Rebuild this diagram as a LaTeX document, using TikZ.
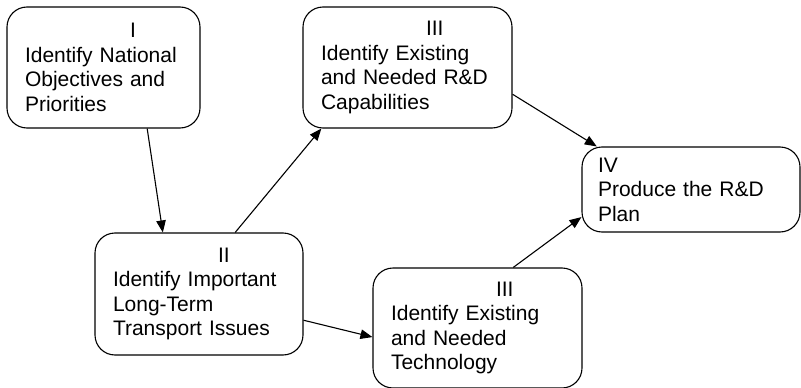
\documentclass[tikz,border=0pt]{standalone}
\usepackage{fontspec}
\setmainfont{Liberation Sans}
\usetikzlibrary{arrows.meta,calc}

\tikzset{
  stage/.style={draw, line width=1.1pt, rounded corners=20pt, align=left,
    inner xsep=17pt, inner ysep=0pt, anchor=center,
    font=\fontsize{21}{24.6}\selectfont},
  flow/.style={line width=1.1pt, -{Triangle[length=12pt,width=9.5pt]}}
}
\newcommand{\numpad}{\hspace*{105pt}}

\begin{document}
\begin{tikzpicture}[x=1pt,y=-1pt]
  \useasboundingbox (0,0) rectangle (801,388);

  % stage boxes
  \node[stage, minimum width=193pt, minimum height=121pt, text width=157pt]
    (s1) at (103.5,67.5) {\numpad I\\Identify National\\Objectives and\\Priorities};
  \node[stage, minimum width=209pt, minimum height=121pt, text width=173pt]
    (s3a) at (407.5,67.5) {\numpad III\\Identify Existing\\and Needed R\&D\\Capabilities};
  \node[stage, minimum width=218pt, minimum height=85pt, text width=186pt,
    inner xsep=15pt]
    (s4) at (691,189.5) {IV\\Produce the R\&D\\Plan};
  \node[stage, minimum width=208pt, minimum height=122pt, text width=172pt]
    (s2) at (199,294) {\numpad II\\Identify Important\\Long-Term\\Transport Issues};
  \node[stage, minimum width=209pt, minimum height=120pt, text width=173pt]
    (s3b) at (477.5,328) {\numpad III\\Identify Existing\\and Needed\\Technology};

  % connectors
  \draw[flow] ($(s1.south west)!0.725!(s1.south east)$)
           -- ($(s2.north west)!0.327!(s2.north east)$);
  \draw[flow] ($(s2.north west)!0.673!(s2.north east)$)
           -- ($(s3a.south west)!0.09!(s3a.south east)$);
  \draw[flow] ($(s3a.north east)!0.719!(s3a.south east)$)
           -- ($(s4.north west)!0.07!(s4.north east)$);
  \draw[flow] ($(s2.north east)!0.713!(s2.south east)$)
           -- ($(s3b.north west)!0.575!(s3b.south west)$);
  \draw[flow] ($(s3b.north west)!0.67!(s3b.north east)$)
           -- ($(s4.north west)!0.82!(s4.south west)$);
\end{tikzpicture}
\end{document}
